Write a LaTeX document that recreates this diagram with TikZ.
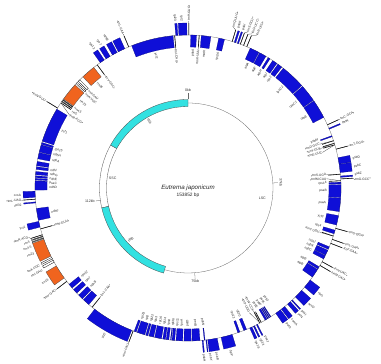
\documentclass[tikz,border=0pt]{standalone}
\usepackage{fontspec}
\setmainfont{Liberation Sans}
\definecolor{gblue}{RGB}{15,15,215}
\definecolor{gorange}{RGB}{240,100,30}
\definecolor{gcyan}{RGB}{50,225,225}
\newcounter{glab}
\tikzset{
  genelabel/.style={font=\fontsize{3.2}{3.4}\selectfont, inner sep=0.1pt, text=black!85},
  blueblock/.style={fill=gblue, draw=gblue!60!black, line width=0.2pt},
  rrnablock/.style={fill=gorange, draw=black!70, line width=0.25pt},
  hatchblock/.style={fill=white, draw=black, line width=0.3pt},
  trnaline/.style={draw=black, line width=0.6pt},
  leader/.style={draw=black!80, line width=0.25pt},
  ringline/.style={draw=black!60, line width=0.3pt},
  ticklabel/.style={font=\fontsize{3.6}{4}\selectfont, inner sep=0.5pt, text=black!80},
}
% [#1 label angle] #2 start angle, #3 end angle (clockwise from top), #4 side i/o, #5 kind b/o/s/t, #6 label
\newcommand\gn[6][]{%
  \pgfmathsetmacro\gnA{90-#2}%
  \pgfmathsetmacro\gnB{90-#3}%
  \ifx\relax#1\relax\pgfmathsetmacro\gnT{(#2+#3)/2}\else\pgfmathsetmacro\gnT{#1}\fi
  \pgfmathsetmacro\gnM{90-\gnT}%
  \if#4i\def\gnRa{141}\def\gnRb{153}\def\gnRl{139}\def\gnOut{0}\else\def\gnRa{153}\def\gnRb{165}\def\gnRl{167}\def\gnOut{1}\fi
  \if#5b\path[blueblock] (\gnA:\gnRa) arc[start angle=\gnA,end angle=\gnB,radius=\gnRa] -- (\gnB:\gnRb) arc[start angle=\gnB,end angle=\gnA,radius=\gnRb] -- cycle;\fi
  \if#5o\path[rrnablock] (\gnA:\gnRa) arc[start angle=\gnA,end angle=\gnB,radius=\gnRa] -- (\gnB:\gnRb) arc[start angle=\gnB,end angle=\gnA,radius=\gnRb] -- cycle;\fi
  \if#5s\path[hatchblock] (\gnA:\gnRa) arc[start angle=\gnA,end angle=\gnB,radius=\gnRa] -- (\gnB:\gnRb) arc[start angle=\gnB,end angle=\gnA,radius=\gnRb] -- cycle;\fi
  \if#5t\draw[trnaline] (\gnA:\gnRa) -- (\gnA:\gnRb);
    \draw[leader] (\gnA:153) -- (\gnA:\gnRb) -- (\gnM:\gnRl);\def\gnDot{\textbullet}\else\def\gnDot{}\fi
  \pgfmathtruncatemacro\gnRight{\gnT<180 ? 1 : 0}%
  \ifnum\gnRight=1 \pgfmathsetmacro\gnRot{\gnM}\else\pgfmathsetmacro\gnRot{\gnM+180}\fi
  \pgfmathtruncatemacro\gnAfter{\gnRight==\gnOut ? 1 : 0}%
  \ifnum\gnAfter=1 \def\gnAnch{west}\def\gnTxt{#6\gnDot}\else\def\gnAnch{east}\def\gnTxt{\gnDot#6}\fi
  \ifx\relax#6\relax\else
    \stepcounter{glab}%
    \node[genelabel, rotate=\gnRot, anchor=\gnAnch] (gl\arabic{glab}) at (\gnM:\gnRl) {\gnTxt};%
  \fi
}
\begin{document}
\begin{tikzpicture}[x=1pt,y=1pt]
\useasboundingbox (0,0) rectangle (381,364);
\begin{scope}[shift={(188,176)}]
% gene ring
\draw[ringline] (0,0) circle[radius=153];
% ---- LSC ----
\gn{0.3}{0.3}{o}{t}{trnH-GUG}
\gn{1.0}{3.2}{i}{b}{psbA}
\gn{4.2}{4.2}{i}{t}{trnK-UUU}
\gn{5.0}{8.6}{i}{b}{matK}
\gn{11.6}{13.8}{i}{b}{rps16}
\gn[15.8]{16.8}{16.8}{o}{t}{trnQ-UUG}
\gn[17.5]{17.6}{18.2}{o}{b}{psbK}
\gn[19.2]{18.8}{19.3}{o}{b}{psbI}
\gn[20.9]{20.0}{20.0}{o}{t}{trnS-GCU}
\gn[22.6]{21.3}{21.3}{o}{t}{trnG-UCC}
\gn[24.3]{22.6}{22.6}{o}{t}{trnR-UCU}
\gn{24.0}{27.6}{i}{b}{atpA}
\gn{27.9}{30.6}{i}{b}{atpF}
\gn{31.6}{32.4}{i}{b}{atpH}
\gn{33.6}{35.5}{i}{b}{atpI}
\gn{36.0}{37.8}{i}{b}{rps2}
\gn{38.5}{48.0}{i}{b}{rpoC2}
\gn{48.4}{55.0}{i}{b}{rpoC1}
\gn{55.3}{62.5}{i}{b}{rpoB}
\gn{65.6}{65.6}{o}{t}{trnC-GCA}
\gn{67.0}{67.4}{o}{b}{petN}
\gn[69.8]{70.0}{70.4}{i}{b}{psbM}
\gn[71.6]{72.0}{72.0}{i}{t}{trnD-GUC}
\gn[73.4]{73.0}{73.0}{i}{t}{trnY-GUA}
\gn[75.2]{73.6}{73.6}{i}{t}{trnE-UUC}
\gn{75.3}{75.3}{o}{t}{trnT-GGU}
\gn{78.6}{81.0}{o}{b}{psbD}
\gn{81.1}{84.2}{o}{b}{psbC}
\gn[84.4]{84.8}{84.8}{i}{t}{trnS-UGA}
\gn[85.3]{85.5}{86.0}{o}{b}{psbZ}
\gn[87.1]{86.6}{86.6}{o}{t}{trnG-GCC}
\gn[86.2]{87.3}{87.3}{i}{t}{trnfM-CAU}
\gn[88.0]{87.8}{88.4}{i}{b}{rps14}
\gn{88.7}{93.6}{i}{b}{psaB}
\gn{93.8}{98.9}{i}{b}{psaA}
\gn{100.4}{104.0}{i}{b}{ycf3}
\gn{105.3}{105.3}{o}{t}{trnS-GGA}
\gn[106.2]{106.0}{107.4}{i}{b}{rps4}
\gn[108.6]{108.3}{108.3}{i}{t}{trnT-UGU}
\gn{109.6}{109.6}{o}{t}{trnL-UAA}
\gn{111.2}{111.2}{o}{t}{trnF-GAA}
\gn{112.6}{113.6}{i}{b}{ndhJ}
\gn{114.0}{116.0}{i}{b}{ndhK}
\gn{116.2}{117.6}{i}{b}{ndhC}
\gn{118.8}{118.8}{o}{t}{trnV-UAC}
\gn{120.4}{120.4}{o}{t}{trnM-CAU}
\gn{121.0}{121.9}{i}{b}{atpE}
\gn{122.2}{125.6}{i}{b}{atpB}
\gn{127.0}{130.4}{o}{b}{rbcL}
\gn{132.0}{135.4}{o}{b}{accD}
\gn{137.0}{137.4}{o}{b}{psaI}
\gn{138.0}{139.4}{o}{b}{ycf4}
\gn{140.8}{142.4}{o}{b}{cemA}
\gn{142.8}{145.0}{o}{b}{petA}
\gn[144.8]{147.2}{147.5}{i}{b}{psbJ}
\gn[146.6]{147.8}{148.1}{i}{b}{psbL}
\gn[148.4]{148.4}{148.7}{i}{b}{psbF}
\gn[150.2]{149.0}{149.7}{i}{b}{psbE}
\gn[152.0]{151.4}{151.4}{i}{t}{trnW-CCA}
\gn[153.8]{152.0}{152.0}{i}{t}{trnP-UGG}
\gn[152.6]{153.0}{153.4}{o}{b}{psaJ}
\gn[154.4]{154.2}{154.7}{o}{b}{rpl33}
\gn[156.2]{155.3}{156.2}{o}{b}{rps18}
\gn{157.5}{158.6}{i}{b}{rpl20}
\gn{160.2}{161.0}{i}{b}{rps12}
\gn{163.2}{167.5}{o}{b}{clpP}
\gn[170.2]{169.0}{172.6}{o}{b}{psbB}
\gn[172.4]{173.0}{173.3}{o}{b}{psbT}
\gn{173.6}{173.9}{i}{b}{psbN}
\gn[174.6]{174.3}{174.7}{o}{b}{psbH}
\gn{175.5}{178.4}{i}{b}{petB}
\gn{178.8}{181.5}{i}{b}{petD}
\gn[182.6]{182.0}{184.5}{i}{b}{rpoA}
\gn[184.4]{185.0}{186.0}{i}{b}{rps11}
\gn[186.2]{186.3}{186.6}{i}{b}{rpl36}
\gn[188.0]{187.2}{188.2}{i}{b}{rps8}
\gn[189.8]{188.5}{189.5}{i}{b}{rpl14}
\gn[191.6]{190.0}{192.6}{i}{b}{rpl16}
\gn[193.6]{193.0}{194.8}{i}{b}{rps3}
\gn[195.4]{195.2}{196.0}{i}{b}{rpl22}
% ---- IRb ----
\gn[197.4]{196.4}{199.4}{i}{b}{rpl2}
\gn[199.4]{199.8}{200.6}{i}{b}{rpl23}
\gn{201.0}{201.0}{o}{t}{trnI-CAU}
\gn{201.6}{217.6}{o}{b}{ycf2}
\gn{218.8}{218.8}{i}{t}{trnL-CAA}
\gn{220.4}{223.1}{i}{b}{}
\gn{223.6}{225.6}{i}{b}{ndhB}
\gn{226.6}{228.4}{i}{b}{rps7}
\gn{229.2}{231.0}{i}{b}{rps12}
\gn{232.4}{232.4}{o}{t}{trnV-GAC}
\gn{234.0}{239.4}{o}{o}{rrn16}
\gn[240.6]{241.0}{241.8}{o}{s}{trnI-GAU}
\gn[242.4]{242.4}{243.0}{o}{s}{trnA-UGC}
\gn{243.6}{250.4}{o}{o}{rrn23}
\gn[249.4]{250.7}{251.0}{o}{s}{rrn4.5}
\gn[251.1]{251.4}{251.7}{o}{s}{rrn5}
\gn[252.8]{252.2}{252.2}{o}{t}{trnR-ACG}
\gn{254.5}{254.5}{i}{t}{trnN-GUU}
\gn{255.2}{257.4}{o}{b}{ycf1}
% ---- SSC ----
\gn{257.8}{262.3}{i}{b}{ndhF}
\gn[264.0]{264.4}{264.8}{o}{b}{rpl32}
\gn[265.8]{265.8}{265.8}{o}{t}{trnL-UAG}
\gn[267.6]{266.5}{268.8}{o}{b}{ccsA}
\gn[270.2]{269.2}{272.7}{i}{b}{ndhD}
\gn[272.0]{273.0}{273.6}{i}{b}{psaC}
\gn[273.8]{273.9}{274.6}{i}{b}{ndhE}
\gn[275.6]{275.0}{276.2}{i}{b}{ndhG}
\gn[277.4]{277.0}{278.0}{i}{b}{ndhI}
\gn{278.4}{280.0}{i}{b}{}
\gn[281.6]{281.0}{283.4}{i}{b}{ndhA}
\gn[284.0]{283.6}{286.4}{i}{b}{ndhH}
\gn[286.2]{286.6}{287.3}{i}{b}{rps15}
\gn{287.8}{301.0}{i}{b}{ycf1}
% ---- IRa ----
\gn{301.5}{301.5}{o}{t}{trnN-GUU}
\gn[301.6]{303.8}{303.8}{i}{t}{trnR-ACG}
\gn[303.4]{304.3}{304.6}{i}{s}{rrn5}
\gn[305.2]{305.0}{305.3}{i}{s}{rrn4.5}
\gn[309.0]{305.6}{312.4}{i}{o}{rrn23}
\gn[312.6]{313.0}{313.6}{i}{s}{trnA-UGC}
\gn[314.4]{314.2}{315.0}{i}{s}{trnI-GAU}
\gn{316.6}{322.0}{i}{o}{rrn16}
\gn{323.6}{323.6}{i}{t}{trnV-GAC}
\gn{325.0}{326.8}{o}{b}{rps12}
\gn{327.6}{329.4}{o}{b}{rps7}
\gn{330.4}{332.4}{o}{b}{ndhB}
\gn{332.9}{335.6}{o}{b}{}
\gn{337.2}{337.2}{o}{t}{trnL-CAA}
\gn{338.4}{354.4}{i}{b}{ycf2}
\gn{355.0}{355.0}{i}{t}{trnI-CAU}
\gn[355.6]{355.4}{356.2}{o}{b}{rpl23}
\gn[357.8]{356.6}{359.6}{o}{b}{rpl2}
% ---- inner circle ----
\draw[ringline] (90:85) arc[start angle=90,end angle=-106,radius=85];
\path[fill=white, draw=black!70, line width=0.3pt] (193:81.5) arc[start angle=193,end angle=151,radius=81.5] -- (151:88.5) arc[start angle=151,end angle=193,radius=88.5] -- cycle;
\path[fill=gcyan, draw=black!70, line width=0.3pt] (151:81.5) arc[start angle=151,end angle=90,radius=81.5] -- (90:88.5) arc[start angle=90,end angle=151,radius=88.5] -- cycle;
\path[fill=gcyan, draw=black!70, line width=0.3pt] (-106:81.5) arc[start angle=-106,end angle=-167,radius=81.5] -- (-167:88.5) arc[start angle=-167,end angle=-106,radius=88.5] -- cycle;
% ticks
\draw[ringline] (90:88.5) -- (90:95);
\node[ticklabel, anchor=south] (t0) at (90:95.5) {0kb};
\draw[ringline] (3.4:85) -- (3.4:90);
\node[ticklabel, rotate=-90, anchor=south] (t37) at (3.4:91) {37kb};
\draw[ringline] (-85.5:85) -- (-85.5:91);
\node[ticklabel, anchor=north] (t75) at (-85.5:91.5) {75kb};
\draw[ringline] (-172:88.5) -- (-172:93);
\node[ticklabel, anchor=east] (t112) at (-172:93.5) {112kb};
% region labels
\node[ticklabel, rotate=-60] (ira) at (120:77) {IRA};
\node[ticklabel, rotate=42] (irb) at (-138:77) {IRB};
\node[ticklabel] (ssc) at (172.5:76) {SSC};
\node[ticklabel] (lsc) at (-7.7:75) {LSC};
% centre
\node[font=\fontsize{6.2}{7}\selectfont\itshape, text=black!85, inner sep=0pt] (title) at (0,0) {Eutrema japonicum};
\node[font=\fontsize{4.8}{5.5}\selectfont, text=black!85, inner sep=0pt] (size) at (0,-7.5) {153852 bp};
\end{scope}
\end{tikzpicture}
\end{document}
